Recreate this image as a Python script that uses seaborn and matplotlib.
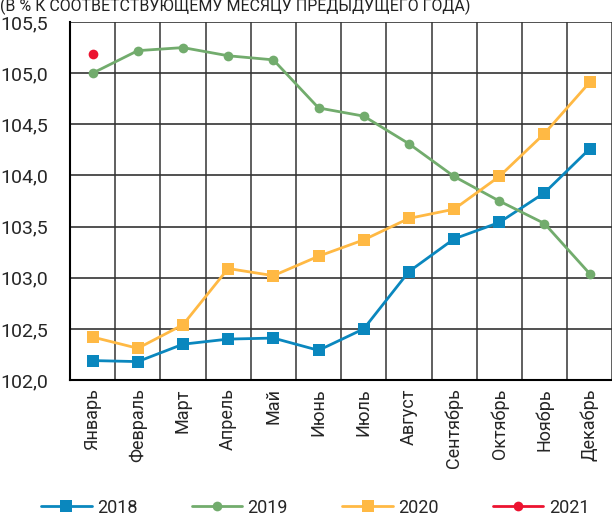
import matplotlib
matplotlib.use("Agg")
import matplotlib.pyplot as plt
from matplotlib.lines import Line2D
import seaborn as sns
import pandas as pd

months = ['Январь', 'Февраль', 'Март', 'Апрель', 'Май', 'Июнь', 'Июль',
          'Август', 'Сентябрь', 'Октябрь', 'Ноябрь', 'Декабрь']
y2018 = [102.19, 102.18, 102.35, 102.40, 102.41, 102.29, 102.50,
         103.06, 103.38, 103.54, 103.83, 104.26]
y2019 = [105.00, 105.22, 105.25, 105.17, 105.13, 104.66, 104.58,
         104.31, 103.99, 103.75, 103.53, 103.04]
y2020 = [102.42, 102.31, 102.54, 103.09, 103.02, 103.21, 103.37,
         103.58, 103.67, 103.99, 104.41, 104.91]
y2021 = [105.19]
yticks = [102.0, 102.5, 103.0, 103.5, 104.0, 104.5, 105.0, 105.5]

series = [
    ('2018', y2018, '#0A87BE', 's', 8),
    ('2019', y2019, '#72AC6D', 'o', 7),
    ('2020', y2020, '#FFB944', 's', 8),
    ('2021', y2021, '#EC1330', 'o', 7),
]

sns.set_style('white')
plt.rcParams['font.family'] = ['Roboto', 'DejaVu Sans']

fig = plt.figure(figsize=(6.12, 5.18), dpi=100)
ax = fig.add_axes([0.1144, 0.2664, 0.886, 0.6911])

handles = []
for name, vals, color, marker, ms in series:
    df = pd.DataFrame({'x': range(len(vals)), 'y': vals})
    sns.lineplot(data=df, x='x', y='y', ax=ax, color=color, marker=marker,
                 markersize=ms, markeredgewidth=0, linewidth=2, zorder=3)
    handles.append(Line2D([0], [0], color=color, marker=marker, markersize=ms,
                          markeredgewidth=0, linewidth=2, label=name))

ax.set_xlim(-0.5, 11.5)
ax.set_ylim(102.0, 105.5)
ax.set_xticks(range(12))
ax.set_xticklabels(months, rotation=90, fontsize=13)
ax.set_xticks([k + 0.5 for k in range(-1, 12)], minor=True)
ax.set_yticks(yticks)
ax.set_yticklabels([f'{v:.1f}'.replace('.', ',') for v in yticks], fontsize=14)
ax.tick_params(axis='both', which='both', length=0)
ax.tick_params(axis='y', pad=16)
ax.tick_params(axis='x', pad=6)
ax.grid(True, which='minor', axis='x', color='#444444', linewidth=1.2)
ax.grid(True, which='major', axis='y', color='#333333', linewidth=1.2)
ax.set_axisbelow(True)
ax.set_xlabel('')
ax.set_ylabel('')
for side in ['top', 'right']:
    ax.spines[side].set_visible(False)
for side in ['left', 'bottom']:
    ax.spines[side].set_color('black')
    ax.spines[side].set_linewidth(1.5)

fig.text(0.0, 1 - 11 / 518, '(В % К СООТВЕТСТВУЮЩЕМУ МЕСЯЦУ ПРЕДЫДУЩЕГО ГОДА)',
         fontsize=11.5, va='baseline', ha='left', color='#222222',
         family=['Liberation Sans Narrow', 'Roboto', 'DejaVu Sans'])

fig.legend(handles=handles, loc='center', bbox_to_anchor=(0.515, 0.02),
           ncol=4, frameon=False, fontsize=13, handlelength=2.8,
           columnspacing=3.0, handletextpad=0.3)

fig.savefig('out.png', dpi=100)
